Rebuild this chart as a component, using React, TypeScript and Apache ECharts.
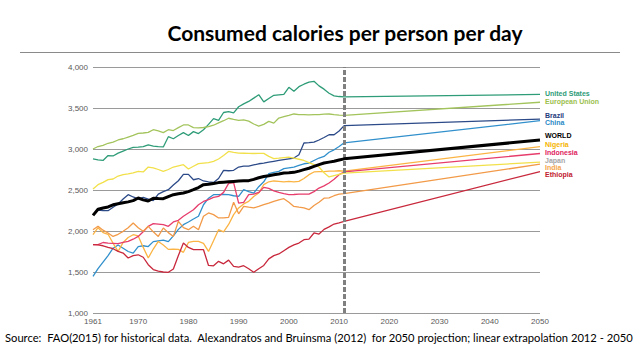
import { useEffect, useRef } from "react";
import * as echarts from "echarts";

const titleText = "Consumed calories per person per day";
const sourceText =
  "Source:  FAO(2015) for historical data.  Alexandratos and Bruinsma (2012)  for 2050 projection; linear extrapolation 2012 - 2050";

const xTickYears = [1961, 1970, 1980, 1990, 2000, 2010, 2020, 2030, 2040, 2050];
const projectionStart = 2011;

const usData = [
  [1961, 2880], [1962, 2868], [1963, 2860], [1964, 2920], [1965, 2915], [1966, 2950], [1967, 2975], [1968, 3000],
  [1969, 3020], [1970, 3022], [1971, 3030], [1972, 3050], [1973, 3035], [1974, 3028], [1975, 3025], [1976, 3150],
  [1977, 3125], [1978, 3165], [1979, 3200], [1980, 3165], [1981, 3212], [1982, 3188], [1983, 3235], [1984, 3300],
  [1985, 3370], [1986, 3350], [1987, 3445], [1988, 3455], [1989, 3440], [1990, 3515], [1991, 3550], [1992, 3580],
  [1993, 3620], [1994, 3662], [1995, 3575], [1996, 3615], [1997, 3655], [1998, 3660], [1999, 3665], [2000, 3752],
  [2001, 3705], [2002, 3760], [2003, 3790], [2004, 3815], [2005, 3825], [2006, 3770], [2007, 3730], [2008, 3680],
  [2009, 3648], [2010, 3640], [2011, 3635], [2050, 3665],
];
const euData = [
  [1961, 3000], [1962, 3030], [1963, 3045], [1964, 3070], [1965, 3085], [1966, 3110], [1967, 3125], [1968, 3145],
  [1969, 3165], [1970, 3190], [1971, 3195], [1972, 3203], [1973, 3235], [1974, 3220], [1975, 3200], [1976, 3235],
  [1977, 3225], [1978, 3260], [1979, 3293], [1980, 3293], [1981, 3260], [1982, 3258], [1983, 3262], [1984, 3272],
  [1985, 3290], [1986, 3318], [1987, 3345], [1988, 3375], [1989, 3360], [1990, 3350], [1991, 3355], [1992, 3340],
  [1993, 3305], [1994, 3280], [1995, 3300], [1996, 3337], [1997, 3316], [1998, 3378], [1999, 3395], [2000, 3410],
  [2001, 3427], [2002, 3420], [2003, 3418], [2004, 3415], [2005, 3418], [2006, 3420], [2007, 3425], [2008, 3427],
  [2009, 3418], [2010, 3412], [2011, 3410], [2050, 3570],
];
const brazilData = [
  [1961, 2200], [1962, 2256], [1963, 2250], [1964, 2248], [1965, 2290], [1966, 2329], [1967, 2390], [1968, 2443],
  [1969, 2415], [1970, 2390], [1971, 2410], [1972, 2390], [1973, 2370], [1974, 2450], [1975, 2480], [1976, 2504],
  [1977, 2560], [1978, 2613], [1979, 2690], [1980, 2690], [1981, 2625], [1982, 2640], [1983, 2610], [1984, 2600],
  [1985, 2592], [1986, 2640], [1987, 2740], [1988, 2735], [1989, 2740], [1990, 2780], [1991, 2790], [1992, 2790],
  [1993, 2805], [1994, 2820], [1995, 2829], [1996, 2840], [1997, 2850], [1998, 2860], [1999, 2870], [2000, 2880],
  [2001, 2890], [2002, 2930], [2003, 3073], [2004, 3078], [2005, 3085], [2006, 3110], [2007, 3140], [2008, 3174],
  [2009, 3174], [2010, 3220], [2011, 3285], [2050, 3365],
];
const chinaData = [
  [1961, 1446], [1962, 1540], [1963, 1620], [1964, 1700], [1965, 1790], [1966, 1830], [1967, 1790], [1968, 1750],
  [1969, 1730], [1970, 1810], [1971, 1820], [1972, 1810], [1973, 1870], [1974, 1880], [1975, 1890], [1976, 1870],
  [1977, 1940], [1978, 2020], [1979, 2077], [1980, 2110], [1981, 2146], [1982, 2180], [1983, 2320], [1984, 2400],
  [1985, 2443], [1986, 2443], [1987, 2445], [1988, 2443], [1989, 2430], [1990, 2422], [1991, 2504], [1992, 2480],
  [1993, 2463], [1994, 2540], [1995, 2600], [1996, 2700], [1997, 2715], [1998, 2727], [1999, 2760], [2000, 2770],
  [2001, 2780], [2002, 2800], [2003, 2820], [2004, 2829], [2005, 2860], [2006, 2890], [2007, 2910], [2008, 2960],
  [2009, 2990], [2010, 3030], [2011, 3075], [2050, 3345],
];
const worldData = [
  [1961, 2190], [1962, 2265], [1963, 2280], [1964, 2293], [1965, 2320], [1966, 2333], [1967, 2345], [1968, 2355],
  [1969, 2370], [1970, 2402], [1971, 2380], [1972, 2365], [1973, 2400], [1974, 2395], [1975, 2394], [1976, 2420],
  [1977, 2443], [1978, 2455], [1979, 2463], [1980, 2480], [1981, 2504], [1982, 2530], [1983, 2565], [1984, 2570],
  [1985, 2580], [1986, 2590], [1987, 2595], [1988, 2600], [1989, 2605], [1990, 2610], [1991, 2612], [1992, 2614],
  [1993, 2630], [1994, 2650], [1995, 2665], [1996, 2675], [1997, 2686], [1998, 2695], [1999, 2707], [2000, 2710],
  [2001, 2715], [2002, 2730], [2003, 2748], [2004, 2765], [2005, 2788], [2006, 2810], [2007, 2829], [2008, 2840],
  [2009, 2850], [2010, 2865], [2011, 2880], [2050, 3110],
];
const nigeriaData = [
  [1961, 1955], [1962, 2040], [1963, 1980], [1964, 1960], [1965, 1850], [1966, 1751], [1967, 1860], [1968, 1920],
  [1969, 1955], [1970, 1940], [1971, 1800], [1972, 1671], [1973, 1780], [1974, 1873], [1975, 1830], [1976, 1776],
  [1977, 1780], [1978, 1776], [1979, 1740], [1980, 1860], [1981, 1873], [1982, 1873], [1983, 1850], [1984, 1751],
  [1985, 1880], [1986, 2016], [1987, 1990], [1988, 2080], [1989, 2200], [1990, 2281], [1991, 2330], [1992, 2362],
  [1993, 2420], [1994, 2463], [1995, 2565], [1996, 2600], [1997, 2610], [1998, 2605], [1999, 2600], [2000, 2605],
  [2001, 2600], [2002, 2605], [2003, 2640], [2004, 2687], [2005, 2720], [2006, 2725], [2007, 2725], [2008, 2730],
  [2009, 2730], [2010, 2735], [2011, 2730], [2050, 3030],
];
const indonesiaData = [
  [1961, 1833], [1962, 1835], [1963, 1860], [1964, 1853], [1965, 1850], [1966, 1845], [1967, 1860], [1968, 1873],
  [1969, 1900], [1970, 1934], [1971, 1990], [1972, 2057], [1973, 2090], [1974, 2085], [1975, 2077], [1976, 2057],
  [1977, 2110], [1978, 2130], [1979, 2180], [1980, 2220], [1981, 2260], [1982, 2321], [1983, 2360], [1984, 2382],
  [1985, 2410], [1986, 2422], [1987, 2471], [1988, 2580], [1989, 2590], [1990, 2341], [1991, 2350], [1992, 2443],
  [1993, 2450], [1994, 2470], [1995, 2532], [1996, 2520], [1997, 2490], [1998, 2470], [1999, 2455], [2000, 2443],
  [2001, 2445], [2002, 2450], [2003, 2450], [2004, 2450], [2005, 2480], [2006, 2524], [2007, 2550], [2008, 2585],
  [2009, 2630], [2010, 2687], [2011, 2720], [2050, 2945],
];
const japanData = [
  [1961, 2512], [1962, 2565], [1963, 2593], [1964, 2626], [1965, 2634], [1966, 2670], [1967, 2687], [1968, 2697],
  [1969, 2710], [1970, 2727], [1971, 2720], [1972, 2780], [1973, 2770], [1974, 2750], [1975, 2727], [1976, 2750],
  [1977, 2780], [1978, 2795], [1979, 2809], [1980, 2756], [1981, 2790], [1982, 2821], [1983, 2829], [1984, 2835],
  [1985, 2850], [1986, 2878], [1987, 2920], [1988, 2971], [1989, 2960], [1990, 2950], [1991, 2948], [1992, 2946],
  [1993, 2945], [1994, 2946], [1995, 2946], [1996, 2910], [1997, 2882], [1998, 2888], [1999, 2895], [2000, 2902],
  [2001, 2890], [2002, 2875], [2003, 2860], [2004, 2835], [2005, 2810], [2006, 2780], [2007, 2710], [2008, 2660],
  [2009, 2675], [2010, 2690], [2011, 2705], [2050, 2840],
];
const indiaData = [
  [1961, 2016], [1962, 2057], [1963, 2010], [1964, 1976], [1965, 1934], [1966, 1960], [1967, 1996], [1968, 2040],
  [1969, 2098], [1970, 2040], [1971, 1996], [1972, 2057], [1973, 1990], [1974, 1934], [1975, 2037], [1976, 1980],
  [1977, 1934], [1978, 2118], [1979, 2040], [1980, 2016], [1981, 2057], [1982, 2016], [1983, 2180], [1984, 2220],
  [1985, 2200], [1986, 2159], [1987, 2160], [1988, 2166], [1989, 2350], [1990, 2210], [1991, 2300], [1992, 2290],
  [1993, 2281], [1994, 2300], [1995, 2321], [1996, 2340], [1997, 2362], [1998, 2380], [1999, 2394], [2000, 2350],
  [2001, 2300], [2002, 2290], [2003, 2281], [2004, 2260], [2005, 2310], [2006, 2350], [2007, 2400], [2008, 2405],
  [2009, 2430], [2010, 2450], [2011, 2456], [2050, 2815],
];
const ethiopiaData = [
  [1961, 1833], [1962, 1830], [1963, 1820], [1964, 1800], [1965, 1784], [1966, 1751], [1967, 1731], [1968, 1671],
  [1969, 1700], [1970, 1710], [1971, 1680], [1972, 1589], [1973, 1530], [1974, 1510], [1975, 1500], [1976, 1496],
  [1977, 1537], [1978, 1700], [1979, 1853], [1980, 1800], [1981, 1772], [1982, 1772], [1983, 1772], [1984, 1580],
  [1985, 1575], [1986, 1630], [1987, 1600], [1988, 1645], [1989, 1569], [1990, 1560], [1991, 1577], [1992, 1540],
  [1993, 1496], [1994, 1540], [1995, 1580], [1996, 1660], [1997, 1700], [1998, 1720], [1999, 1760], [2000, 1800],
  [2001, 1830], [2002, 1853], [2003, 1894], [2004, 1900], [2005, 1976], [2006, 1963], [2007, 2020], [2008, 2050],
  [2009, 2085], [2010, 2100], [2011, 2118], [2050, 2725],
];

const seriesNames = ["United States", "European Union", "Brazil", "China", "WORLD", "Nigeria", "Indonesia", "Japan", "India", "Ethiopia"];
const seriesData = [usData, euData, brazilData, chinaData, worldData, nigeriaData, indonesiaData, japanData, indiaData, ethiopiaData];
const lineColors = ["#2e9c78", "#a3c45c", "#2c4a88", "#3190cc", "#000000", "#fbb444", "#e63d6c", "#f2e04a", "#f29a48", "#c8283c"];
const labelColors = ["#2e9c78", "#9cc04e", "#1f3c7c", "#2b8ac6", "#000000", "#f5b400", "#e0245e", "#a6a6a6", "#f5a54a", "#c0202e"];
const labelY = [93, 101.7, 115, 122.3, 135.7, 144, 152.3, 160, 167.3, 174.3];

export default function App() {
  const ref = useRef<HTMLDivElement>(null);
  useEffect(() => {
    const chart = echarts.init(ref.current!, null, { renderer: "svg" });
    const series: any[] = seriesNames.map((name, i) => ({
      name,
      type: "line",
      data: seriesData[i],
      symbol: "none",
      showSymbol: false,
      silent: true,
      z: name === "WORLD" ? 5 : 2,
      lineStyle: { color: lineColors[i], width: name === "WORLD" ? 3 : 1.3 },
      itemStyle: { color: lineColors[i] },
    }));
    series.push({
      name: "projection",
      type: "line",
      data: [],
      z: 8,
      markLine: {
        silent: true,
        symbol: ["none", "none"],
        label: { show: false },
        lineStyle: { color: "#808080", width: 3, type: [5, 2] },
        data: [{ xAxis: projectionStart }],
      },
    });
    const graphics: any[] = [
      {
        type: "text",
        x: 345,
        y: 32,
        style: {
          text: titleText,
          font: "bold 21px Lato",
          fill: "#000",
          textAlign: "center",
          textVerticalAlign: "middle",
        },
      },
      {
        type: "line",
        shape: { x1: 20, y1: 52.5, x2: 620, y2: 52.5 },
        style: { stroke: "#8a8a8a", lineWidth: 1 },
      },
      {
        type: "text",
        x: 5,
        y: 337,
        style: {
          text: sourceText,
          font: "11.2px Lato",
          fill: "#000",
          textAlign: "left",
          textVerticalAlign: "middle",
        },
      },
    ];
    seriesNames.forEach((name, i) => {
      graphics.push({
        type: "text",
        x: 545,
        y: labelY[i],
        style: {
          text: name,
          font: "bold 7px 'Liberation Sans'",
          fill: labelColors[i],
          textAlign: "left",
          textVerticalAlign: "middle",
        },
      });
    });
    chart.setOption({
      animation: false,
      grid: { left: 93, right: 100, top: 67, bottom: 47 },
      xAxis: {
        type: "value",
        min: 1961,
        max: 2050,
        axisLine: { show: false },
        axisTick: { show: false },
        splitLine: { show: false },
        axisLabel: {
          customValues: xTickYears,
          color: "#595959",
          fontSize: 8,
          fontFamily: "Liberation Sans",
          margin: 4,
          formatter: (v: number) => String(v),
        },
      },
      yAxis: {
        type: "value",
        min: 1000,
        max: 4000,
        interval: 500,
        axisLine: { show: false },
        axisTick: { show: false },
        splitLine: { lineStyle: { color: "#9a9a9a", width: 1 } },
        axisLabel: {
          color: "#595959",
          fontSize: 8,
          fontFamily: "Liberation Sans",
          margin: 5,
          formatter: (v: number) => v.toLocaleString("en-US"),
        },
      },
      series,
      graphic: graphics,
    });
    return () => chart.dispose();
  }, []);
  return <div ref={ref} style={{ position: "fixed", left: 0, top: 0, width: 640, height: 360, background: "#fff" }} />;
}
